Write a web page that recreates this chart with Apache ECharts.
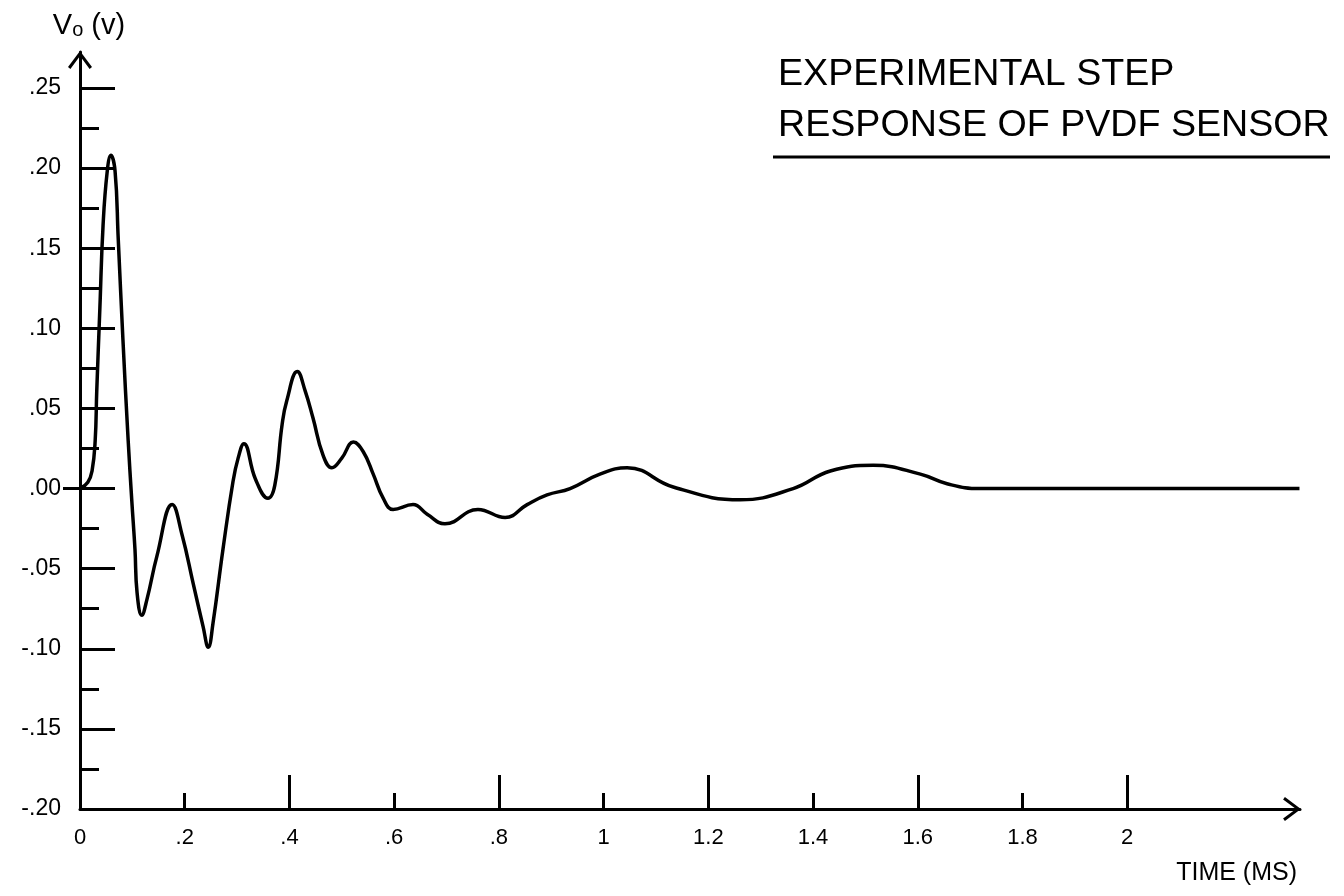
<!DOCTYPE html>
<html>
<head>
<meta charset="utf-8">
<script src="https://cdn.jsdelivr.net/npm/echarts@6.0.0/dist/echarts.min.js"></script>
<style>
html,body{margin:0;padding:0;background:#ffffff;}
#c{width:1344px;height:896px;}
</style>
</head>
<body>
<div id="c"></div>
<script>
// ---- data ----
const timeMs = [0, 0.015, 0.023, 0.029, 0.032, 0.038, 0.044, 0.052, 0.059, 0.067, 0.073, 0.082, 0.092, 0.099,
  0.105, 0.109, 0.118, 0.128, 0.147, 0.176, 0.195, 0.216, 0.235, 0.245, 0.254, 0.273, 0.292, 0.302, 0.313,
  0.335, 0.359, 0.372, 0.386, 0.395, 0.415, 0.430, 0.445, 0.464, 0.481, 0.500, 0.522, 0.541, 0.560,
  0.579, 0.598, 0.636, 0.663, 0.697, 0.760, 0.812, 0.854, 0.892, 0.936, 0.993, 1.045, 1.133, 1.261, 1.362,
  1.433, 1.515, 1.605, 1.656, 1.719, 2.329];
const voltage = [0, 0.004, 0.011, 0.030, 0.061, 0.113, 0.164, 0.198, 0.208, 0.198, 0.156, 0.093, 0.030, -0.008,
  -0.038, -0.065, -0.079, -0.069, -0.042, -0.010, -0.029, -0.059, -0.086, -0.099, -0.084, -0.038, 0.004, 0.019, 0.028,
  0.006, -0.006, 0.002, 0.040, 0.055, 0.073, 0.061, 0.044, 0.021, 0.013, 0.019, 0.029, 0.023, 0.009,
  -0.006, -0.013, -0.010, -0.016, -0.022, -0.013, -0.018, -0.010, -0.004, 0.000, 0.009, 0.013, 0.001, -0.007, 0.000,
  0.011, 0.0145, 0.009, 0.003, 0.000, 0.000];

const xTickValues = [0, 0.2, 0.4, 0.6, 0.8, 1.0, 1.2, 1.4, 1.6, 1.8, 2.0];
const xTickLabels = ['0', '.2', '.4', '.6', '.8', '1', '1.2', '1.4', '1.6', '1.8', '2'];
const xLongTicks = [0.4, 0.8, 1.2, 1.6, 2.0];
const xShortTicks = [0.2, 0.6, 1.0, 1.4, 1.8];

const yTickValues = [-0.2, -0.15, -0.1, -0.05, 0, 0.05, 0.1, 0.15, 0.2, 0.25];
const yTickLabels = ['-.20', '-.15', '-.10', '-.05', '.00', '.05', '.10', '.15', '.20', '.25'];
const yMajorTicks = [-0.15, -0.1, -0.05, 0, 0.05, 0.1, 0.15, 0.2, 0.25];
const yMinorTicks = [-0.175, -0.125, -0.075, -0.025, 0.025, 0.075, 0.125, 0.175, 0.225];
const yZeroTick = [0];

const titleLines = ['EXPERIMENTAL STEP', 'RESPONSE OF PVDF SENSOR'];
const xAxisName = 'TIME (MS)';

// ---- rendering ----
const FONT = '"Liberation Sans", Arial, "DejaVu Sans", sans-serif';
const TITLE_FONT = '"Liberation Sans Narrow", "Liberation Sans", Arial, sans-serif';
const INK = '#000000';
const arrowPath = 'path://M0,16L12,0L24,16L21.6,17.8L12,4.9L2.4,17.8Z';

const cv = document.createElement('canvas').getContext('2d');
cv.font = '100px ' + TITLE_FONT;
const titleSize = Math.min(46, 100 * 552 / cv.measureText(titleLines[1]).width);

function labelFor(values, labels) {
  return function (v) {
    for (let i = 0; i < values.length; i++) {
      if (Math.abs(values[i] - v) < 1e-6) return labels[i];
    }
    return '';
  };
}

const X_MIN = 0, X_MAX = 2.33, Y_MIN = -0.2, Y_MAX = 0.2725;
const tickStyle = { color: INK, width: 3 };

const chart = echarts.init(document.getElementById('c'), null, { renderer: 'canvas' });
chart.setOption({
  backgroundColor: '#ffffff',
  animation: false,
  title: {
    text: titleLines.join('\n'),
    left: 773,
    top: 44,
    textStyle: { fontFamily: TITLE_FONT, fontWeight: 'normal', fontSize: titleSize, lineHeight: 51, color: INK }
  },
  grid: { left: 80, right: 44, top: 52, bottom: 87, outerBoundsMode: 'none' },
  graphic: [{
    type: 'line',
    shape: { x1: 773, y1: 157, x2: 1330, y2: 157 },
    style: { stroke: INK, lineWidth: 3 }
  }],
  xAxis: [{
    type: 'value', min: X_MIN, max: X_MAX, position: 'bottom',
    axisLine: { show: true, onZero: false, symbol: ['none', arrowPath], symbolSize: [24, 18], symbolOffset: [0, -8], lineStyle: tickStyle },
    axisTick: { show: true, inside: true, length: 34, customValues: xLongTicks, lineStyle: tickStyle },
    axisLabel: { show: true, customValues: xTickValues, formatter: labelFor(xTickValues, xTickLabels), margin: 18, color: INK, fontSize: 22, fontFamily: FONT },
    splitLine: { show: false },
    name: xAxisName, nameLocation: 'end', nameGap: -3,
    nameTextStyle: { align: 'right', verticalAlign: 'top', padding: [52, 0, 0, 0], fontSize: 25, color: INK, fontFamily: FONT }
  }, {
    type: 'value', min: X_MIN, max: X_MAX, position: 'bottom',
    axisLine: { show: false, onZero: false },
    axisTick: { show: true, inside: true, length: 16, customValues: xShortTicks, lineStyle: tickStyle },
    axisLabel: { show: false },
    splitLine: { show: false }
  }],
  yAxis: [{
    type: 'value', min: Y_MIN, max: Y_MAX, position: 'left',
    axisLine: { show: true, onZero: false, symbol: ['none', arrowPath], symbolSize: [24, 18], symbolOffset: [0, -8], lineStyle: tickStyle },
    axisTick: { show: true, inside: true, length: 35, customValues: yMajorTicks, lineStyle: tickStyle },
    axisLabel: { show: true, customValues: yTickValues, formatter: labelFor(yTickValues, yTickLabels), margin: 19, color: INK, fontSize: 23, fontFamily: FONT },
    splitLine: { show: false },
    name: '{v|V}{o|o}{v| (v)}', nameLocation: 'end', nameGap: 12,
    nameTextStyle: {
      padding: [0, 0, 0, 18], color: INK, fontFamily: FONT,
      rich: {
        v: { fontSize: 29, color: INK, fontFamily: FONT },
        o: { fontSize: 20, color: INK, fontFamily: FONT, verticalAlign: 'bottom' }
      }
    }
  }, {
    type: 'value', min: Y_MIN, max: Y_MAX, position: 'left',
    axisLine: { show: false, onZero: false },
    axisTick: { show: true, inside: true, length: 19, customValues: yMinorTicks, lineStyle: tickStyle },
    axisLabel: { show: false },
    splitLine: { show: false }
  }, {
    type: 'value', min: Y_MIN, max: Y_MAX, position: 'left',
    axisLine: { show: false, onZero: false },
    axisTick: { show: true, inside: false, length: 17, customValues: yZeroTick, lineStyle: tickStyle },
    axisLabel: { show: false },
    splitLine: { show: false }
  }],
  series: [{
    type: 'line',
    xAxisIndex: 0, yAxisIndex: 0,
    data: timeMs.map((t, i) => [t, voltage[i]]),
    showSymbol: false,
    smooth: 0.45,
    lineStyle: { color: INK, width: 3.5 },
    z: 3
  }]
});
</script>
</body>
</html>
